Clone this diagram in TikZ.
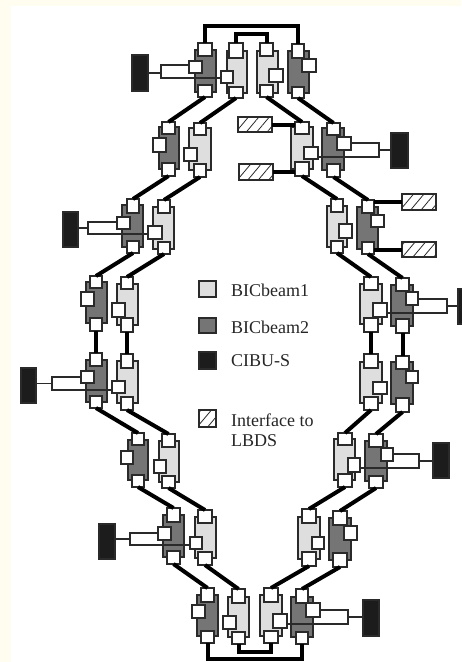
\documentclass[tikz,border=0pt]{standalone}
\usepackage{fontspec}
\setmainfont{Liberation Serif}
\usetikzlibrary{patterns.meta}
\pgfdeclarelayer{back}
\pgfsetlayers{back,main}
\definecolor{beamA}{HTML}{DEDEDE}
\definecolor{beamB}{HTML}{757575}
\definecolor{cibu}{HTML}{1C1C1C}
\definecolor{edgeC}{HTML}{2A2A2A}
\definecolor{paper}{HTML}{FFFDF0}
\tikzset{
  base/.style={draw=edgeC,line width=1.1pt,inner sep=0pt,outer sep=0pt},
  lightbody/.style={base,fill=beamA},
  darkbody/.style={base,fill=beamB},
  cibubox/.style={base,fill=cibu},
  port/.style={base,fill=white},
  rectbox/.style={base,fill=white},
  hatchbox/.style={base,pattern={Lines[angle=50,distance=8pt,line width=0.8pt]},pattern color=edgeC},
  link/.style={line width=4pt,black},
  thinlink/.style={line width=1.1pt,edgeC},
  legend/.style={inner sep=0pt,anchor=west,font=\fontsize{18}{20}\selectfont,text=black!85,align=left}
}
% name, style, x1, y1, x2, y2
\newcommand{\bx}[6]{\node[#2,minimum width={(#5-#3)*1pt},minimum height={(#6-#4)*1pt}] (#1) at ({(#3+#5)/2},{(#4+#6)/2}) {};}
% name, style, body, top, bottom, side
\newcommand{\bic}[6]{%
  \begin{pgfonlayer}{back}\bx{#1}{#2}#3\end{pgfonlayer}
  \bx{#1t}{port}#4\bx{#1b}{port}#5\bx{#1s}{port}#6}
\begin{document}
\begin{tikzpicture}[x=1pt,y=-1pt]
\useasboundingbox (0,0) rectangle (461,662);
\begin{pgfonlayer}{back}
\fill[paper] (0,0) rectangle (461,662);
\fill[white] (11,6) rectangle (461,662);
\end{pgfonlayer}
% row 1
\bic{a1}{darkbody}{{195}{50}{216}{92}}{{198}{43}{212}{56}}{{198}{85}{212}{97}}{{189}{61}{202}{73}}
\bic{b1}{lightbody}{{227}{51}{247}{93}}{{229}{43}{243}{58}}{{229}{87}{243}{98}}{{221}{71}{233}{83}}
\bic{c1}{lightbody}{{257}{51}{278}{93}}{{260}{43}{273}{56}}{{260}{85}{273}{97}}{{269}{69}{283}{82}}
\bic{d1}{darkbody}{{288}{51}{309}{93}}{{292}{44}{304}{58}}{{292}{87}{304}{98}}{{302}{59}{316}{72}}
% row 2
\bic{a2}{darkbody}{{159}{127}{179}{169}}{{162}{122}{175}{134}}{{162}{163}{175}{176}}{{153}{138}{166}{152}}
\bic{b2}{lightbody}{{189}{128}{211}{170}}{{194}{123}{206}{135}}{{194}{164}{206}{177}}{{184}{148}{197}{161}}
\bic{c2}{lightbody}{{291}{127}{313}{169}}{{295}{122}{309}{134}}{{295}{162}{309}{176}}{{304}{147}{318}{159}}
\bic{d2}{darkbody}{{322}{128}{344}{170}}{{327}{123}{340}{135}}{{327}{164}{340}{177}}{{337}{137}{351}{150}}
% row 3
\bic{a3}{darkbody}{{122}{205}{143}{247}}{{127}{199}{139}{213}}{{127}{241}{139}{253}}{{117}{217}{130}{229}}
\bic{b3}{lightbody}{{153}{207}{174}{249}}{{158}{200}{170}{213}}{{158}{242}{170}{254}}{{148}{226}{162}{239}}
\bic{c3}{lightbody}{{327}{206}{347}{247}}{{331}{199}{343}{212}}{{331}{241}{343}{253}}{{339}{224}{352}{238}}
\bic{d3}{darkbody}{{357}{207}{378}{249}}{{362}{200}{374}{213}}{{362}{242}{374}{254}}{{371}{215}{384}{227}}
% row 4
\bic{a4}{darkbody}{{86}{282}{107}{323}}{{90}{276}{102}{288}}{{90}{318}{102}{331}}{{81}{292}{94}{306}}
\bic{b4}{lightbody}{{117}{284}{138}{325}}{{121}{277}{133}{289}}{{121}{318}{133}{332}}{{112}{303}{125}{317}}
\bic{c4}{lightbody}{{360}{284}{382}{324}}{{364}{277}{378}{290}}{{364}{318}{378}{332}}{{373}{303}{387}{317}}
\bic{d4}{darkbody}{{391}{285}{413}{326}}{{396}{278}{409}{291}}{{396}{319}{409}{333}}{{406}{292}{418}{305}}
% row 5
\bic{a5}{darkbody}{{86}{360}{107}{402}}{{90}{353}{102}{366}}{{90}{396}{102}{408}}{{81}{371}{94}{383}}
\bic{b5}{lightbody}{{117}{361}{138}{403}}{{121}{354}{133}{368}}{{121}{397}{133}{410}}{{112}{381}{125}{393}}
\bic{c5}{lightbody}{{360}{362}{382}{403}}{{364}{354}{378}{368}}{{364}{397}{378}{410}}{{373}{382}{387}{394}}
\bic{d5}{darkbody}{{391}{362}{413}{404}}{{396}{356}{409}{369}}{{396}{398}{409}{412}}{{406}{371}{418}{383}}
% row 6
\bic{a6}{darkbody}{{128}{440}{148}{480}}{{132}{433}{144}{445}}{{132}{475}{144}{487}}{{121}{451}{133}{464}}
\bic{b6}{lightbody}{{159}{441}{179}{482}}{{162}{434}{175}{447}}{{162}{476}{175}{488}}{{154}{460}{166}{473}}
\bic{c6}{lightbody}{{334}{439}{355}{480}}{{338}{433}{352}{445}}{{338}{474}{352}{487}}{{348}{458}{360}{472}}
\bic{d6}{darkbody}{{365}{441}{387}{481}}{{369}{434}{383}{447}}{{369}{476}{383}{488}}{{381}{448}{393}{461}}
% row 7
\bic{a7}{darkbody}{{163}{515}{184}{557}}{{167}{508}{180}{522}}{{167}{551}{180}{564}}{{158}{527}{171}{540}}
\bic{b7}{lightbody}{{195}{517}{216}{558}}{{198}{510}{212}{523}}{{198}{552}{212}{565}}{{190}{537}{202}{549}}
\bic{c7}{lightbody}{{298}{517}{320}{559}}{{302}{509}{316}{523}}{{302}{552}{316}{566}}{{312}{537}{324}{549}}
\bic{d7}{darkbody}{{329}{518}{351}{560}}{{333}{511}{347}{525}}{{333}{553}{347}{567}}{{344}{526}{357}{540}}
% row 8
\bic{a8}{darkbody}{{197}{595}{218}{636}}{{201}{588}{214}{602}}{{201}{631}{214}{643}}{{192}{605}{205}{618}}
\bic{b8}{lightbody}{{228}{597}{249}{637}}{{232}{589}{245}{603}}{{232}{632}{245}{644}}{{223}{616}{236}{629}}
\bic{c8}{lightbody}{{260}{595}{282}{636}}{{264}{588}{278}{602}}{{264}{631}{278}{643}}{{273}{614}{287}{628}}
\bic{d8}{darkbody}{{291}{597}{313}{637}}{{296}{589}{308}{603}}{{296}{632}{308}{644}}{{306}{603}{320}{617}}
% CIBU-S boxes and their adapters
\begin{pgfonlayer}{back}
\bx{r1}{rectbox}{161}{65}{195}{78}
\bx{r2}{rectbox}{344}{143}{379}{157}
\bx{r3}{rectbox}{88}{222}{122}{234}
\bx{r4}{rectbox}{413}{299}{447}{313}
\bx{r5}{rectbox}{52}{377}{86}{390}
\bx{r6}{rectbox}{387}{454}{419}{468}
\bx{r7}{rectbox}{130}{533}{163}{545}
\bx{r8}{rectbox}{313}{610}{348}{624}
\draw[thinlink] (r1.south east) -- (b1s.west |- r1.south east);
\draw[thinlink] (r2.south west) -- (c2s.east |- r2.south west);
\draw[thinlink] (r3.south east) -- (b3s.west |- r3.south east);
\draw[thinlink] (r4.south west) -- (c4s.east |- r4.south west);
\draw[thinlink] (r5.south east) -- (b5s.west |- r5.south east);
\draw[thinlink] (r6.south west) -- (c6s.east |- r6.south west);
\draw[thinlink] (r7.south east) -- (b7s.west |- r7.south east);
\draw[thinlink] (r8.south west) -- (c8s.east |- r8.south west);
\end{pgfonlayer}
\bx{k1}{cibubox}{132}{55}{148}{91}
\bx{k2}{cibubox}{391}{133}{408}{168}
\bx{k3}{cibubox}{63}{212}{78}{247}
\bx{k4}{cibubox}{458}{289}{475}{324}
\bx{k5}{cibubox}{21}{368}{36}{403}
\bx{k6}{cibubox}{433}{443}{449}{478}
\bx{k7}{cibubox}{99}{524}{115}{559}
\bx{k8}{cibubox}{363}{600}{379}{636}
\draw[thinlink] (k1.east |- 0,73) -- (r1.west |- 0,73);
\draw[thinlink] (r2.east) -- (k2.west |- r2.east);
\draw[thinlink] (k3.east |- r3.west) -- (r3.west);
\draw[thinlink] (r4.east) -- (k4.west |- r4.east);
\draw[thinlink] (k5.east |- r5.west) -- (r5.west);
\draw[thinlink] (r6.east) -- (k6.west |- r6.east);
\draw[thinlink] (k7.east |- r7.west) -- (r7.west);
\draw[thinlink] (r8.east) -- (k8.west |- r8.east);
% LBDS interfaces
\bx{h1}{hatchbox}{238}{117}{272}{132}
\bx{h2}{hatchbox}{239}{164}{273}{180}
\bx{h3}{hatchbox}{402}{194}{436}{210}
\bx{h4}{hatchbox}{402}{242}{436}{257}
\draw[link] (h1.east) -- (c2t.west |- h1.east);
\draw[link] (h2.east) -- (c2b.west |- h2.east);
\draw[link] (d3t.east |- h3.west) -- (h3.west);
\draw[link] (d3b.east |- h4.west) -- (h4.west);
% beam chains
\foreach \p/\q in {1/2,2/3,3/4,4/5,5/6,6/7,7/8}{
  \draw[link] (a\p b.south) -- (a\q t.north);
  \draw[link] (b\p b.south) -- (b\q t.north);
  \draw[link] (c\p b.south) -- (c\q t.north);
  \draw[link] (d\p b.south) -- (d\q t.north);
}
\coordinate (topout) at (254,26);
\coordinate (topin) at (252,34);
\coordinate (botin) at (258,652);
\coordinate (botout) at (255,659);
\draw[link] (a1t.north) |- (topout) -| (d1t.north);
\draw[link] (b1t.north) |- (topin) -| (c1t.north);
\draw[link] (b8b.south) |- (botin) -| (c8b.south);
\draw[link] (a8b.south) |- (botout) -| (d8b.south);
% legend
\bx{l1}{lightbody}{199}{281}{216}{297}
\bx{l2}{darkbody}{199}{318}{216}{333}
\bx{l3}{cibubox}{199}{352}{216}{369}
\bx{l4}{hatchbox}{199}{410}{216}{427}
\node[legend] (t1) at (231,290) {BICbeam1};
\node[legend] (t2) at (231,327) {BICbeam2};
\node[legend] (t3) at (231,361) {CIBU-S};
\node[legend] (t4) at (231,430) {Interface to\\LBDS};
\end{tikzpicture}
\end{document}
